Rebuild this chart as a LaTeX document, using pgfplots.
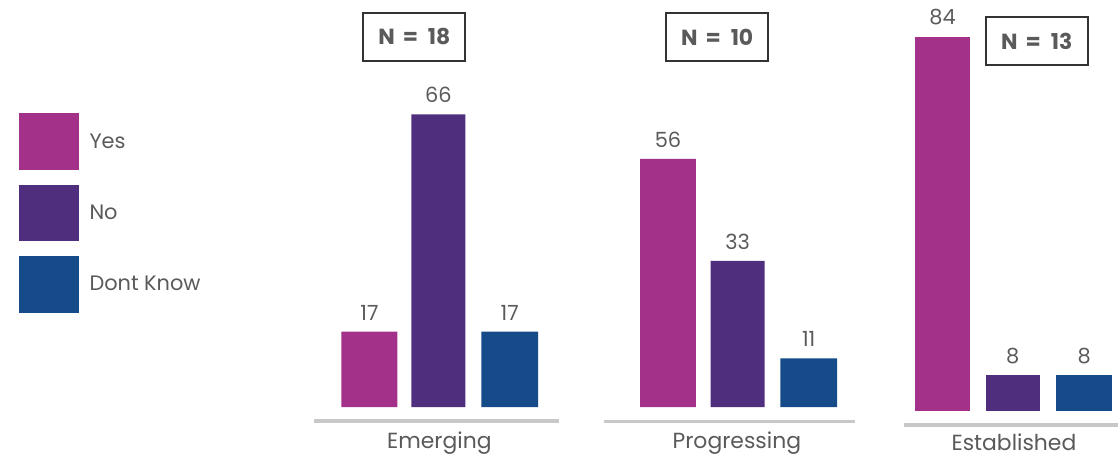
\documentclass[border=0pt]{standalone}
\usepackage{pgfplots}
\pgfplotsset{compat=1.18}
\usepackage{fontspec}
\setmainfont{Poppins}

\definecolor{cyes}{HTML}{A3318A}
\definecolor{cno}{HTML}{502E7E}
\definecolor{cdk}{HTML}{164B8A}
\definecolor{ctext}{HTML}{5A5A5A}
\definecolor{cframe}{HTML}{333333}
\definecolor{cbase}{HTML}{C8C8C8}

% Both axes span the whole 1120 x 455 page; x is in bp from the left edge.
\pgfplotsset{
  sqlegend/.style={legend image code/.code={\fill[##1,draw=none] (0bp,-28.5bp) rectangle (60bp,28.5bp);}},
  page/.style={
    ybar, scale only axis, clip=false,
    axis line style={draw=none}, xtick=\empty, ytick=\empty,
    width=1120bp, height=455bp, xmin=0, xmax=1120,
    /pgf/number format/assume math mode=true,
    nodes near coords,
    nodes near coords style={font=\fontsize{21}{21}\selectfont, text=ctext,
      anchor=base, inner sep=0pt, yshift=11.7bp},
  },
  barsq/.style={draw=none, bar shift=0pt, sqlegend},
}
\tikzset{
  baseline rule/.style={draw=cbase, line width=3.5bp},
  catlab/.style={anchor=base, inner sep=0pt, text=ctext, font=\fontsize{22}{22}\selectfont},
  nbox/.style={draw=cframe, line width=2bp, minimum width=102bp, minimum height=48bp,
    inner sep=0pt, text=ctext, font=\fontsize{22}{22}\selectfont\bfseries},
}
\newcommand{\nlabel}[1]{N\hspace{8bp}=\hspace{10bp}#1}

\begin{document}
\begin{tikzpicture}

% Emerging and Progressing (4.44 bp per percentage point)
\begin{axis}[page, ymin=-10.653, ymax=91.824,
  legend style={at={(0.01696,0.751)}, anchor=north west, draw=none, fill=none,
    inner sep=0pt, outer sep=0pt, row sep=14.5bp, column sep=10.7bp,
    font=\fontsize{21}{21}\selectfont, text=ctext,
    nodes={inner sep=0pt}},
  legend cell align=left]
\path (rel axis cs:0,0) rectangle (rel axis cs:1,1);
\addplot[barsq, fill=cyes, bar width=56] coordinates {(370,17) (669,56)};
\addplot[barsq, fill=cno, bar width=54] coordinates {(439,66) (738.7,33)};
\addplot[barsq, fill=cdk, bar width=57] coordinates {(510.5,17) (810,11)};
\legend{Yes,No,Dont Know}
\draw[baseline rule] (axis cs:314,-3.153) -- (axis cs:560,-3.153);
\draw[baseline rule] (axis cs:605,-3.29) -- (axis cs:856,-3.29);
\node[catlab] at (axis cs:440,-9.39) {Emerging};
\node[catlab] at (axis cs:738,-9.39) {Progressing};
\node[nbox] at (axis cs:415,83.49) {\nlabel{18}};
\node[nbox] at (axis cs:718.3,83.45) {\nlabel{10}};
\end{axis}

% Established (its baseline sits slightly lower)
\begin{axis}[page, ymin=-9.798, ymax=92.22]
\addplot[barsq, fill=cyes, bar width=54.5] coordinates {(944,84)};
\addplot[barsq, fill=cno, bar width=54] coordinates {(1014.3,8)};
\addplot[barsq, fill=cdk, bar width=56] coordinates {(1085.8,8)};
\draw[baseline rule] (axis cs:905,-3.229) -- (axis cs:1120,-3.229);
\node[catlab] at (axis cs:1015.5,-8.9) {Established};
\node[nbox] at (axis cs:1038.3,83.03) {\nlabel{13}};
\end{axis}
\end{tikzpicture}
\end{document}
